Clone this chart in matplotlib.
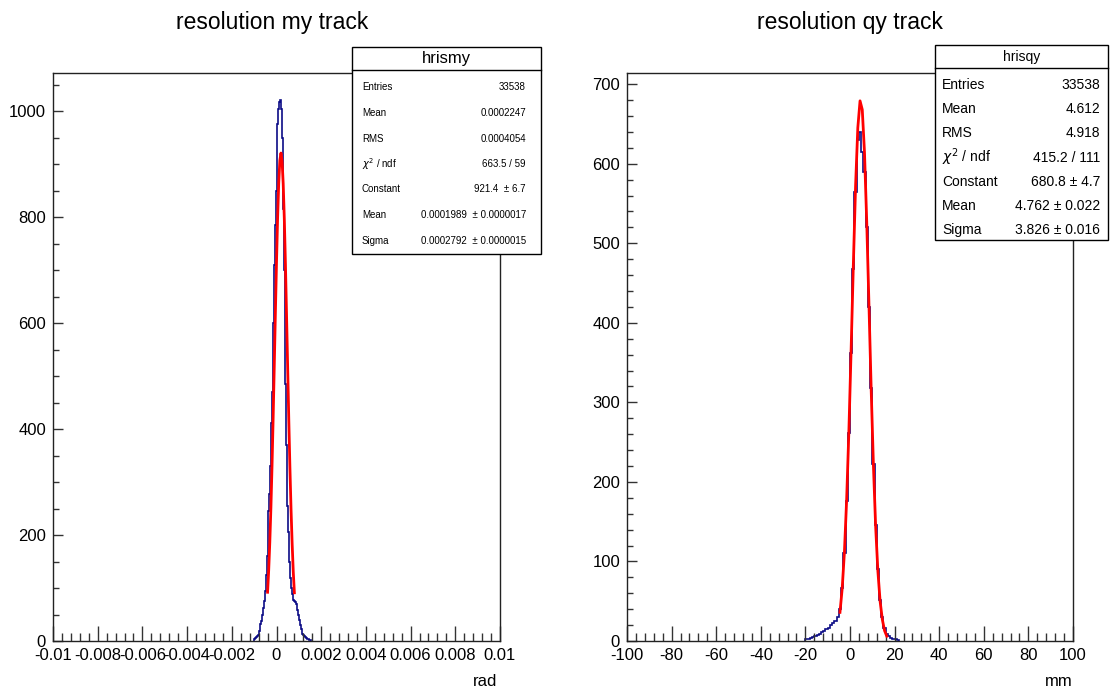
import numpy as np
import matplotlib
matplotlib.use("Agg")
import matplotlib.pyplot as plt
from matplotlib.patches import Rectangle
from matplotlib.ticker import MultipleLocator, FixedLocator

plt.rcParams['font.family'] = ['Liberation Sans', 'DejaVu Sans']
plt.rcParams['axes.unicode_minus'] = False

# --- left histogram: resolution my (rad) ---
my_lo = -0.00100          # lower edge of first listed bin
my_width = 0.00004
my_counts = [3, 5, 7, 9, 12, 18, 25, 32, 38, 50, 62, 75, 95, 125, 160, 210,
             245, 278, 330, 411, 470, 600, 710, 785, 850, 935, 975, 1005,
             1018, 1021, 1005, 950, 815, 700, 610, 485, 370, 255, 205, 150,
             118, 100, 88, 81, 78, 76, 74, 70, 58, 50, 40, 30, 23, 18, 14,
             12, 9, 7, 6, 4, 3, 2, 1, 1]
my_fit_x = [-0.00040, -0.00035, -0.00030, -0.00025, -0.00020, -0.00015,
            -0.00010, -0.00005, 0.00000, 0.00005, 0.00010, 0.00015, 0.00020,
            0.00025, 0.00030, 0.00035, 0.00040, 0.00045, 0.00050, 0.00055,
            0.00060, 0.00065, 0.00070, 0.00075, 0.00080]
my_fit_y = [92, 133, 186, 252, 331, 421, 519, 619, 714, 799, 865, 907, 921,
            906, 863, 796, 711, 614, 515, 418, 328, 249, 184, 131, 91]
my_ticks = [-0.01, -0.008, -0.006, -0.004, -0.002, 0, 0.002, 0.004, 0.006, 0.008, 0.01]
my_ticklabels = ["-0.01", "-0.008", "-0.006", "-0.004", "-0.002", "0",
                 "0.002", "0.004", "0.006", "0.008", "0.01"]
my_stats = [("Entries", "33538"), ("Mean", "0.0002247"), ("RMS", "0.0004054"),
            (r"$\chi^2$ / ndf", "663.5 / 59"), ("Constant", "921.4  ± 6.7"),
            ("Mean", "0.0001989  ± 0.0000017"), ("Sigma", "0.0002792  ± 0.0000015")]

# --- right histogram: resolution qy (mm) ---
qy_lo = -20.0
qy_width = 1.0
qy_counts = [2, 3, 4, 5, 6, 8, 9, 11, 12, 15, 16, 20, 22, 25, 30, 40, 66, 110,
             176, 262, 362, 468, 565, 630, 640, 615, 590, 520, 420, 318, 222,
             146, 90, 52, 30, 16, 9, 6, 4, 3, 2, 1]
qy_fit_x = [-4.5, -3.5, -2.5, -1.5, -0.5, 0.5, 1.5, 2.5, 3.5, 4.5, 5.5, 6.5,
            7.5, 8.5, 9.5, 10.5, 11.5, 12.5, 13.5, 14.5, 15.5, 16.5]
qy_fit_y = [36, 66, 112, 178, 264, 366, 473, 572, 645, 679, 668, 614, 527,
            423, 316, 221, 144, 88, 50, 27, 13, 6]
qy_stats = [("Entries", "33538"), ("Mean", "4.612"), ("RMS", "4.918"),
            (r"$\chi^2$ / ndf", "415.2 / 111"), ("Constant", "680.8 ± 4.7"),
            ("Mean", "4.762 ± 0.022"), ("Sigma", "3.826 ± 0.016")]

W, H = 1119, 689
fig = plt.figure(figsize=(W / 100, H / 100), dpi=100)

def fx(px):
    return px / W

def fy(py):
    return 1 - py / H

blue = '#0c0c86'
red = '#ff0000'

def style_axes(ax):
    for s in ax.spines.values():
        s.set_linewidth(1.0)
        s.set_color('#222222')
    ax.tick_params(axis='x', which='major', direction='in', length=11, width=1,
                   labelsize=12, pad=5, colors='#333333', labelcolor='black')
    ax.tick_params(axis='x', which='minor', direction='in', length=5.5, width=1,
                   colors='#333333')
    ax.tick_params(axis='y', which='major', direction='in', length=7, width=1,
                   labelsize=12, pad=5, colors='#333333', labelcolor='black')
    ax.tick_params(axis='y', which='minor', direction='in', length=4, width=1,
                   colors='#333333')

# left panel
ax1 = fig.add_axes([fx(53), fy(641), fx(500 - 53), (641 - 73) / H])
edges = my_lo + my_width * np.arange(len(my_counts) + 1)
ax1.stairs(my_counts, edges, color=blue, lw=1.2)
ax1.plot(my_fit_x, my_fit_y, color=red, lw=2)
ax1.set_xlim(-0.01, 0.01)
ax1.set_ylim(0, 1.05 * max(my_counts))
ax1.xaxis.set_major_locator(FixedLocator(my_ticks))
ax1.set_xticklabels(my_ticklabels)
ax1.xaxis.set_minor_locator(MultipleLocator(0.0004))
ax1.yaxis.set_major_locator(MultipleLocator(200))
ax1.yaxis.set_minor_locator(MultipleLocator(50))
style_axes(ax1)

# right panel
ax2 = fig.add_axes([fx(627), fy(641), fx(1073 - 627), (641 - 73) / H])
edges = qy_lo + qy_width * np.arange(len(qy_counts) + 1)
ax2.stairs(qy_counts, edges, color=blue, lw=1.2)
ax2.plot(qy_fit_x, qy_fit_y, color=red, lw=2)
ax2.set_xlim(-100, 100)
ax2.set_ylim(0, 714)
ax2.xaxis.set_major_locator(MultipleLocator(20))
ax2.xaxis.set_minor_locator(MultipleLocator(4))
ax2.yaxis.set_major_locator(MultipleLocator(100))
ax2.yaxis.set_minor_locator(MultipleLocator(20))
style_axes(ax2)

# titles and axis titles
fig.text(fx(272), fy(22), "resolution my track", ha='center', va='center', fontsize=16.5)
fig.text(fx(850), fy(22), "resolution qy track", ha='center', va='center', fontsize=16.5)
fig.text(fx(497), fy(681), "rad", ha='right', va='center', fontsize=12)
fig.text(fx(1073), fy(681), "mm", ha='right', va='center', fontsize=12)

# stats boxes
def stats_box(x0, y0, x1, y1, yhead, name, rows, fs, fs_head, lab_x, val_x, row0, step):
    fig.patches.append(Rectangle((fx(x0), fy(y1)), fx(x1 - x0), (y1 - y0) / H,
                                 transform=fig.transFigure, facecolor='white',
                                 edgecolor='black', lw=1, zorder=10))
    fig.lines.append(plt.Line2D([fx(x0), fx(x1)], [fy(yhead), fy(yhead)],
                                transform=fig.transFigure, color='black', lw=1, zorder=11))
    fig.text(fx((x0 + x1) / 2), fy((y0 + yhead) / 2), name, ha='center', va='center',
             fontsize=fs_head, zorder=12)
    for i, (lab, val) in enumerate(rows):
        yy = row0 + step * i
        fig.text(fx(lab_x), fy(yy), lab, ha='left', va='center', fontsize=fs, zorder=12)
        fig.text(fx(val_x), fy(yy), val, ha='right', va='center', fontsize=fs, zorder=12)

stats_box(352, 47, 541, 254, 70, "hrismy", my_stats, 7, 12, 362, 526, 87.5, 25.5)
stats_box(935, 45, 1108, 240, 68, "hrisqy", qy_stats, 10, 10, 942, 1100, 85, 24.2)

fig.savefig("out.png", dpi=100)
